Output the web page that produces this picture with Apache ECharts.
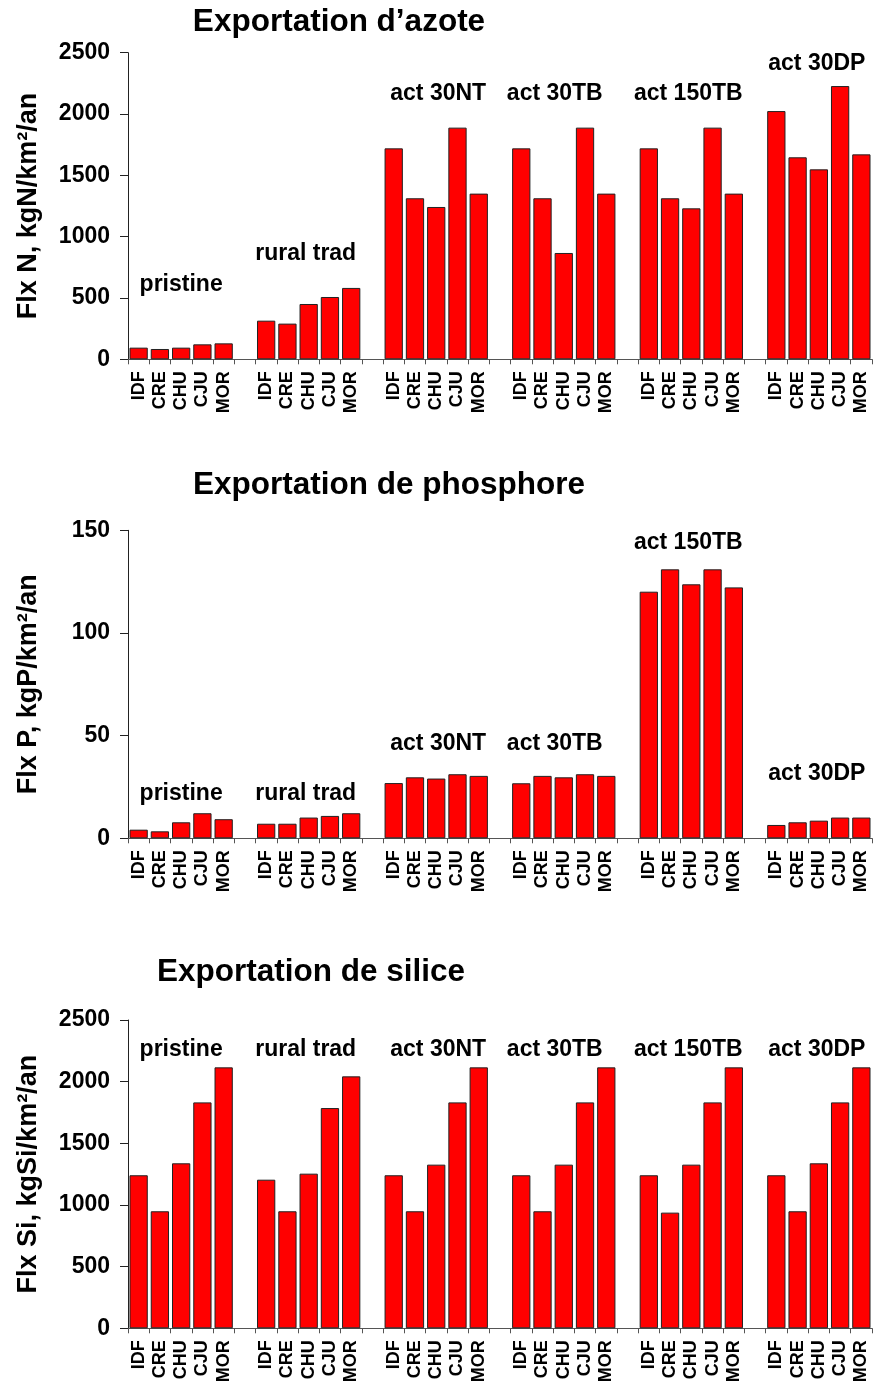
<!DOCTYPE html>
<html>
<head>
<meta charset="utf-8">
<script src="https://cdn.jsdelivr.net/npm/echarts@6/dist/echarts.min.js"></script>
<style>
html,body{margin:0;padding:0;background:#fff;}
#c{width:873px;height:1387px;}
</style>
</head>
<body>
<div id="c"></div>
<script>
// ---- data ----
const codes = ['IDF', 'CRE', 'CHU', 'CJU', 'MOR'];
const scenarios = ['pristine', 'rural trad', 'act 30NT', 'act 30TB', 'act 150TB', 'act 30DP'];

const titleN = 'Exportation d\u2019azote';
const titleP = 'Exportation de phosphore';
const titleSi = 'Exportation de silice';

const axisNameN = 'Flx N, kgN/km\u00b2/an';
const axisNameP = 'Flx P, kgP/km\u00b2/an';
const axisNameSi = 'Flx Si, kgSi/km\u00b2/an';

// values per scenario (IDF, CRE, CHU, CJU, MOR)
const nPristine = [95, 84, 95, 122, 130];
const nRural = [315, 291, 451, 508, 582];
const nAct30NT = [1720, 1313, 1242, 1889, 1351];
const nAct30TB = [1720, 1313, 867, 1889, 1351];
const nAct150TB = [1720, 1313, 1231, 1889, 1351];
const nAct30DP = [2024, 1647, 1549, 2228, 1671];

const pPristine = [4.2, 3.4, 7.8, 12.2, 9.3];
const pRural = [7.1, 7.1, 10.1, 10.9, 12.2];
const pAct30NT = [26.9, 29.7, 29.1, 31.2, 30.4];
const pAct30TB = [26.8, 30.4, 29.7, 31.2, 30.4];
const pAct150TB = [120.1, 131.0, 123.7, 131.0, 122.2];
const pAct30DP = [6.5, 7.8, 8.6, 10.1, 10.1];

const siPristine = [1241, 949, 1338, 1832, 2116];
const siRural = [1205, 949, 1254, 1786, 2043];
const siAct30NT = [1241, 949, 1327, 1832, 2116];
const siAct30TB = [1241, 949, 1327, 1832, 2116];
const siAct150TB = [1241, 938, 1327, 1832, 2116];
const siAct30DP = [1241, 949, 1338, 1832, 2116];

// heights (in axis units) at which the scenario names are written
const nNameLevel = [606, 864, 2169, 2169, 2169, 2408];
const pNameLevel = [21.9, 21.9, 46.3, 46.3, 144, 31.7];
const siNameLevel = [2262, 2262, 2262, 2262, 2262, 2262];

// y ticks
const nTicks = {min: 0, max: 2500, interval: 500};
const pTicks = {min: 0, max: 150, interval: 50};
const siTicks = {min: 0, max: 2500, interval: 500};

// ---- build ----
function buildCategories() {
  const cats = [];
  scenarios.forEach((s, g) => {
    codes.forEach(c => cats.push(c));
    if (g < scenarios.length - 1) cats.push('');
  });
  return cats;
}
function buildValues(groups) {
  const vals = [];
  groups.forEach((arr, g) => {
    arr.forEach(v => vals.push(v));
    if (g < groups.length - 1) vals.push(null);
  });
  return vals;
}
// small horizontal nudge of a scenario name (px), as in the original figure
const nameNudge = [0, -3, 2, -9, -3, -2];
function buildNames(levels) {
  return scenarios.map((s, g) => ({
    name: s,
    value: [g * (codes.length + 1) + 2, levels[g]],
    label: {offset: [nameNudge[g], 0]}
  }));
}

const categories = buildCategories();
const panels = [
  {title: titleN, axisName: axisNameN, ticks: nTicks,
   values: buildValues([nPristine, nRural, nAct30NT, nAct30TB, nAct150TB, nAct30DP]),
   names: buildNames(nNameLevel), top: 52.7, height: 306.6, titleX: 339, titleY: 22},
  {title: titleP, axisName: axisNameP, ticks: pTicks,
   values: buildValues([pPristine, pRural, pAct30NT, pAct30TB, pAct150TB, pAct30DP]),
   names: buildNames(pNameLevel), top: 530.3, height: 308, titleX: 389, titleY: 485},
  {title: titleSi, axisName: axisNameSi, ticks: siTicks,
   values: buildValues([siPristine, siRural, siAct30NT, siAct30TB, siAct150TB, siAct30DP]),
   names: buildNames(siNameLevel), top: 1020, height: 308.3, titleX: 311, titleY: 972}
];

const FONT = '"Liberation Sans", Arial, sans-serif';

const option = {
  animation: false,
  backgroundColor: '#ffffff',
  textStyle: {fontFamily: FONT},
  grid: [], xAxis: [], yAxis: [], series: [],
  graphic: []
};

panels.forEach((p, i) => {
  option.grid.push({left: 128, width: 744, top: p.top, height: p.height, containLabel: false, outerBoundsMode: 'none'});
  option.xAxis.push({
    type: 'category', gridIndex: i, data: categories,
    boundaryGap: true,
    axisLine: {show: true, lineStyle: {color: '#555', width: 1}},
    axisTick: {show: true, interval: 0, length: 5, lineStyle: {color: '#555'}},
    axisLabel: {interval: 0, rotate: 90, margin: 12, color: '#000', fontFamily: FONT,
                fontSize: 18, fontWeight: 'bold'},
    splitLine: {show: false}
  });
  option.yAxis.push({
    type: 'value', gridIndex: i,
    min: p.ticks.min, max: p.ticks.max, interval: p.ticks.interval,
    name: p.axisName, nameLocation: 'middle', nameGap: 86,
    nameTextStyle: {fontFamily: FONT, fontSize: 27, fontWeight: 'bold', color: '#000'},
    axisLine: {show: true, lineStyle: {color: '#222', width: 1}},
    axisTick: {show: true, length: 8, lineStyle: {color: '#222'}},
    axisLabel: {margin: 18, color: '#000', fontFamily: FONT, fontSize: 23, fontWeight: 'bold',
                formatter: v => String(v)},
    splitLine: {show: false}
  });
  option.series.push({
    type: 'bar', xAxisIndex: i, yAxisIndex: i,
    data: p.values, barCategoryGap: '14%',
    itemStyle: {color: '#ff0000', borderColor: '#222', borderWidth: 1}
  });
  option.series.push({
    type: 'scatter', xAxisIndex: i, yAxisIndex: i,
    data: p.names, symbolSize: 1, silent: true,
    itemStyle: {color: 'rgba(0,0,0,0)'},
    label: {show: true, position: 'inside', formatter: '{b}', color: '#000', opacity: 1,
            textBorderWidth: 0, textBorderColor: 'transparent',
            fontFamily: FONT, fontSize: 23, fontWeight: 'bold'},
    emphasis: {disabled: true},
    z: 5
  });
  option.graphic.push({
    type: 'text', x: p.titleX, y: p.titleY, silent: true,
    style: {text: p.title, fill: '#000', font: 'bold 31.5px ' + FONT,
            textAlign: 'center', textVerticalAlign: 'middle'}
  });
});

const chart = echarts.init(document.getElementById('c'), null, {renderer: 'canvas'});
chart.setOption(option);
</script>
</body>
</html>
